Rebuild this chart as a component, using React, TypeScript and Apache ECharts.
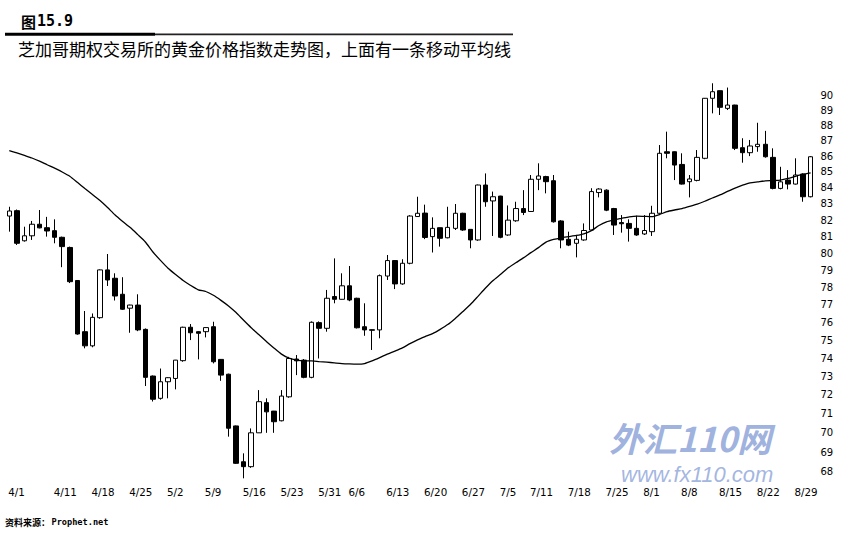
import React, { useEffect, useRef } from 'react';
import * as echarts from 'echarts';

const dates = [
  '4/1', '4/4', '4/5', '4/6', '4/7', '4/8', '4/11', '4/12', '4/13', '4/14', '4/15',
  '4/18', '4/19', '4/20', '4/21', '4/22', '4/25', '4/26', '4/27', '4/28', '4/29',
  '5/2', '5/3', '5/4', '5/5', '5/6', '5/9', '5/10', '5/11', '5/12', '5/13',
  '5/16', '5/17', '5/18', '5/19', '5/20', '5/23', '5/24', '5/25', '5/26', '5/27',
  '5/31', '6/1', '6/2', '6/3', '6/6', '6/7', '6/8', '6/9', '6/10',
  '6/13', '6/14', '6/15', '6/16', '6/17', '6/20', '6/21', '6/22', '6/23', '6/24',
  '6/27', '6/28', '6/29', '6/30', '7/1', '7/5', '7/6', '7/7', '7/8',
  '7/11', '7/12', '7/13', '7/14', '7/15', '7/18', '7/19', '7/20', '7/21', '7/22',
  '7/25', '7/26', '7/27', '7/28', '7/29', '8/1', '8/2', '8/3', '8/4', '8/5',
  '8/8', '8/9', '8/10', '8/11', '8/12', '8/15', '8/16', '8/17', '8/18', '8/19',
  '8/22', '8/23', '8/24', '8/25', '8/26', '8/29', '8/30', '8/31',
];

const xTickLabels = [
  '4/1', '4/11', '4/18', '4/25', '5/2', '5/9', '5/16', '5/23', '5/31', '6/6', '6/13',
  '6/20', '6/27', '7/5', '7/11', '7/18', '7/25', '8/1', '8/8', '8/15', '8/22', '8/29',
];

const yTickLabels = [68, 69, 70, 71, 72, 73, 74, 75, 76, 77, 78, 79, 80, 81, 82, 83, 84, 85, 86, 87, 88, 89, 90];

const opens = [
  82.25, 82.58, 80.75, 81.05, 81.75, 81.54, 81.36, 80.96, 80.35, 78.4,
  75.47, 74.68, 76.26, 79.02, 78.53, 77.6, 76.8, 76.98, 75.6, 73.02,
  71.82, 72.71, 72.89, 73.86, 75.72, 75.47, 75.47, 75.75, 73.93, 73.12,
  70.36, 68.51, 68.26, 70.0, 71.59, 71.14, 70.63, 71.9, 73.95, 73.89,
  72.95, 75.98, 75.66, 77.47, 77.31, 78.09, 77.37, 75.75, 75.58, 75.57,
  78.66, 79.57, 78.2, 79.41, 82.22, 82.43, 81.0, 81.54, 80.93, 81.5,
  82.42, 81.44, 80.8, 84.17, 83.18, 83.48, 81.1, 81.96, 82.71, 82.53,
  84.53, 84.7, 84.44, 81.95, 80.84, 80.6, 80.8, 81.4, 83.7, 83.85,
  82.71, 81.85, 81.8, 81.5, 81.16, 81.3, 82.42, 86.28, 86.28, 85.47,
  84.38, 84.46, 85.86, 89.78, 90.29, 89.11, 89.33, 86.54, 86.22, 86.61,
  86.76, 85.92, 83.96, 84.48, 84.23, 84.86, 83.44,
];

const closes = [
  82.56, 80.6, 81.05, 81.75, 81.53, 81.34, 80.96, 80.4, 78.33, 75.34,
  74.68, 76.28, 79.02, 78.43, 77.5, 76.74, 76.98, 75.57, 72.95, 71.77,
  72.71, 72.93, 73.89, 75.72, 75.41, 75.38, 75.7, 73.8, 73.07, 70.24,
  68.43, 68.26, 70.0, 71.64, 71.1, 70.58, 71.94, 73.98, 73.85, 72.95,
  76.0, 75.66, 77.37, 77.31, 78.09, 77.27, 75.69, 75.57, 75.55, 78.68,
  79.57, 78.2, 79.41, 82.25, 82.42, 80.95, 81.5, 80.9, 81.56, 82.42,
  81.4, 80.8, 84.17, 83.13, 83.44, 80.96, 82.0, 82.71, 82.47, 84.53,
  84.74, 84.38, 81.9, 80.8, 80.49, 80.84, 81.37, 83.76, 83.92, 82.61,
  81.7, 81.78, 81.5, 81.1, 81.37, 82.42, 86.18, 86.18, 85.43, 84.23,
  84.55, 85.92, 89.78, 90.22, 89.18, 89.33, 86.5, 86.22, 86.65, 86.76,
  85.96, 83.96, 84.37, 84.23, 84.8, 83.44, 85.96,
];

const lows = [
  81.3, 80.5, 80.7, 80.8, 81.5, 81.0, 80.6, 79.18, 78.25, 75.3,
  74.54, 74.6, 76.2, 78.08, 77.24, 76.7, 75.41, 75.5, 72.48, 71.65,
  71.75, 71.82, 72.3, 73.8, 75.0, 73.93, 75.15, 73.71, 72.76, 69.8,
  68.4, 67.67, 68.2, 70.0, 70.0, 70.0, 70.6, 71.85, 73.07, 72.9,
  72.9, 73.98, 75.47, 77.08, 77.3, 77.2, 75.65, 75.24, 74.45, 75.1,
  78.43, 77.9, 78.15, 79.35, 82.2, 80.85, 80.05, 80.4, 80.9, 81.4,
  81.35, 80.3, 80.75, 82.82, 81.04, 80.9, 81.05, 81.9, 82.31, 82.5,
  83.85, 83.65, 81.85, 80.3, 80.43, 79.76, 80.75, 81.35, 83.4, 82.55,
  81.1, 81.24, 80.7, 81.05, 81.1, 81.04, 82.4, 85.86, 84.48, 84.2,
  83.4, 84.4, 85.8, 88.78, 88.67, 89.0, 86.39, 85.58, 86.0, 86.28,
  85.9, 83.9, 83.9, 83.9, 84.2, 83.13, 83.4,
];

const highs = [
  82.82, 82.65, 81.6, 81.95, 82.62, 82.2, 82.05, 81.0, 80.4, 78.42,
  76.64, 76.5, 79.05, 79.96, 78.82, 78.59, 77.0, 77.6, 75.65, 73.05,
  73.43, 72.95, 73.9, 75.75, 75.9, 75.5, 75.72, 76.03, 73.95, 73.15,
  70.38, 68.94, 70.23, 72.26, 71.82, 71.15, 72.26, 74.07, 74.17, 73.95,
  76.05, 76.05, 77.85, 79.7, 78.82, 79.25, 77.4, 77.08, 75.6, 78.75,
  79.9, 79.6, 79.65, 82.3, 83.44, 82.95, 82.17, 81.55, 82.82, 82.99,
  82.45, 81.45, 84.2, 84.9, 83.76, 83.5, 82.9, 83.13, 83.85, 84.8,
  85.54, 84.75, 84.8, 82.0, 81.3, 81.1, 81.8, 83.97, 83.97, 83.9,
  82.75, 82.31, 82.05, 82.27, 82.31, 82.88, 86.71, 87.58, 86.3, 86.18,
  84.8, 86.39, 89.8, 90.79, 90.3, 90.5, 89.35, 87.15, 87.04, 88.16,
  87.63, 86.5, 85.32, 85.11, 85.86, 84.9, 86.0,
];

const movingAverage = [
  86.35, 86.2, 86.04, 85.88, 85.68, 85.45, 85.23, 84.99, 84.72, 84.34,
  83.95, 83.58, 83.2, 82.77, 82.31, 81.92, 81.55, 81.12, 80.68, 80.08,
  79.58, 79.12, 78.75, 78.4, 78.11, 77.86, 77.76, 77.54, 77.25, 76.93,
  76.55, 76.11, 75.69, 75.31, 74.92, 74.56, 74.22, 74.0, 73.89, 73.85,
  73.85, 73.81, 73.78, 73.74, 73.7, 73.68, 73.67, 73.7, 73.85, 74.03,
  74.22, 74.39, 74.57, 74.8, 75.01, 75.19, 75.36, 75.6, 75.87, 76.22,
  76.61, 77.01, 77.48, 77.96, 78.4, 78.76, 79.14, 79.44, 79.73, 80.04,
  80.34, 80.67, 80.83, 80.93, 81.0, 81.07, 81.17, 81.36, 81.67, 81.9,
  82.02, 82.11, 82.2, 82.25, 82.23, 82.21, 82.34, 82.52, 82.62, 82.71,
  82.84, 82.98, 83.16, 83.36, 83.55, 83.77, 83.98, 84.16, 84.31, 84.37,
  84.43, 84.45, 84.48, 84.58, 84.72, 84.85, 84.94,
];

const titleNumber = '15.9';
const titleText = '芝加哥期权交易所的黄金价格指数走势图，上面有一条移动平均线';
const sourceLabel = '资料来源：';
const sourceName = 'Prophet.net';

const ln = (v: number) => Math.log(v);

export default function App() {
  const ref = useRef<HTMLDivElement>(null);

  useEffect(() => {
    const el = ref.current;
    if (!el) return;
    const chart = echarts.init(el, null, { renderer: 'svg' });

    const candleData = opens.map((o, i) => [ln(o), ln(closes[i]), ln(lows[i]), ln(highs[i])]);
    const maData = movingAverage.map(ln);

    const option: any = {
      animation: false,
      backgroundColor: '#ffffff',
      grid: { left: 5.5, right: 39.6, top: 80.15, bottom: 54.3, containLabel: false },
      xAxis: {
        type: 'category',
        data: dates,
        boundaryGap: true,
        axisLine: { show: false },
        axisTick: { show: false },
        splitLine: { show: false },
        axisLabel: {
          interval: (_idx: number, val: string) => xTickLabels.indexOf(val) >= 0,
          hideOverlap: false,
          align: 'left',
          margin: 3,
          padding: [0, 0, 0, -1],
          fontFamily: 'DejaVu Sans',
          fontSize: 10.3,
          color: '#000',
        },
      },
      yAxis: {
        type: 'value',
        position: 'right',
        min: ln(67.4),
        max: ln(91),
        scale: true,
        axisLine: { show: false },
        axisTick: { show: false },
        splitLine: { show: false },
        axisLabel: {
          customValues: yTickLabels.map(ln),
          formatter: (v: number) => String(Math.round(Math.exp(v))),
          margin: 6,
          fontFamily: 'DejaVu Sans',
          fontSize: 10,
          color: '#000',
        },
      },
      series: [
        {
          type: 'candlestick',
          data: candleData,
          barWidth: 5,
          itemStyle: {
            color: '#ffffff',
            color0: '#000000',
            borderColor: '#000000',
            borderColor0: '#000000',
            borderColorDoji: '#000000',
            borderWidth: 1,
          },
          z: 2,
        },
        {
          type: 'line',
          data: maData,
          showSymbol: false,
          symbol: 'none',
          smooth: 0.2,
          lineStyle: { color: '#000', width: 1.3 },
          z: 3,
        },
      ],
      graphic: [
        {
          type: 'text', x: 21, y: 21,
          style: { text: '图', font: 'bold 15px "Noto Sans CJK SC"', fill: '#000', verticalAlign: 'middle' },
        },
        {
          type: 'text', x: 37, y: 21,
          style: { text: titleNumber, font: 'bold 15px "DejaVu Sans Mono"', fill: '#000', verticalAlign: 'middle' },
        },
        { type: 'rect', shape: { x: 5, y: 32.7, width: 150, height: 3 }, style: { fill: '#000' } },
        { type: 'rect', shape: { x: 155, y: 33.4, width: 358, height: 1.8 }, style: { fill: '#222' } },
        {
          type: 'text', x: 18, y: 48,
          style: { text: titleText, font: '17px "Noto Sans CJK SC"', fill: '#000', verticalAlign: 'middle' },
        },
        {
          type: 'text', x: 5, y: 522,
          style: { text: sourceLabel, font: 'bold 9px "Noto Sans CJK SC"', fill: '#000', verticalAlign: 'middle' },
        },
        {
          type: 'text', x: 51.5, y: 522,
          style: { text: sourceName, font: 'bold 8.6px "DejaVu Sans Mono"', fill: '#000', verticalAlign: 'middle' },
        },
        {
          type: 'text', x: 609, y: 437,
          style: { text: '外汇110网', font: 'italic bold 34px "Noto Sans CJK SC"', fill: '#93a8da', opacity: 0.9, verticalAlign: 'middle' },
          z: -1,
        },
        {
          type: 'text', x: 621, y: 474,
          style: { text: 'www.fx110.com', font: 'italic 22px "Liberation Sans"', fill: '#98addd', opacity: 0.9, verticalAlign: 'middle' },
          z: -1,
        },
      ],
    };

    chart.setOption(option);
    return () => chart.dispose();
  }, []);

  return (
    <div
      ref={ref}
      style={{ position: 'fixed', left: 0, top: 0, width: 854, height: 538, background: '#fff' }}
    />
  );
}
